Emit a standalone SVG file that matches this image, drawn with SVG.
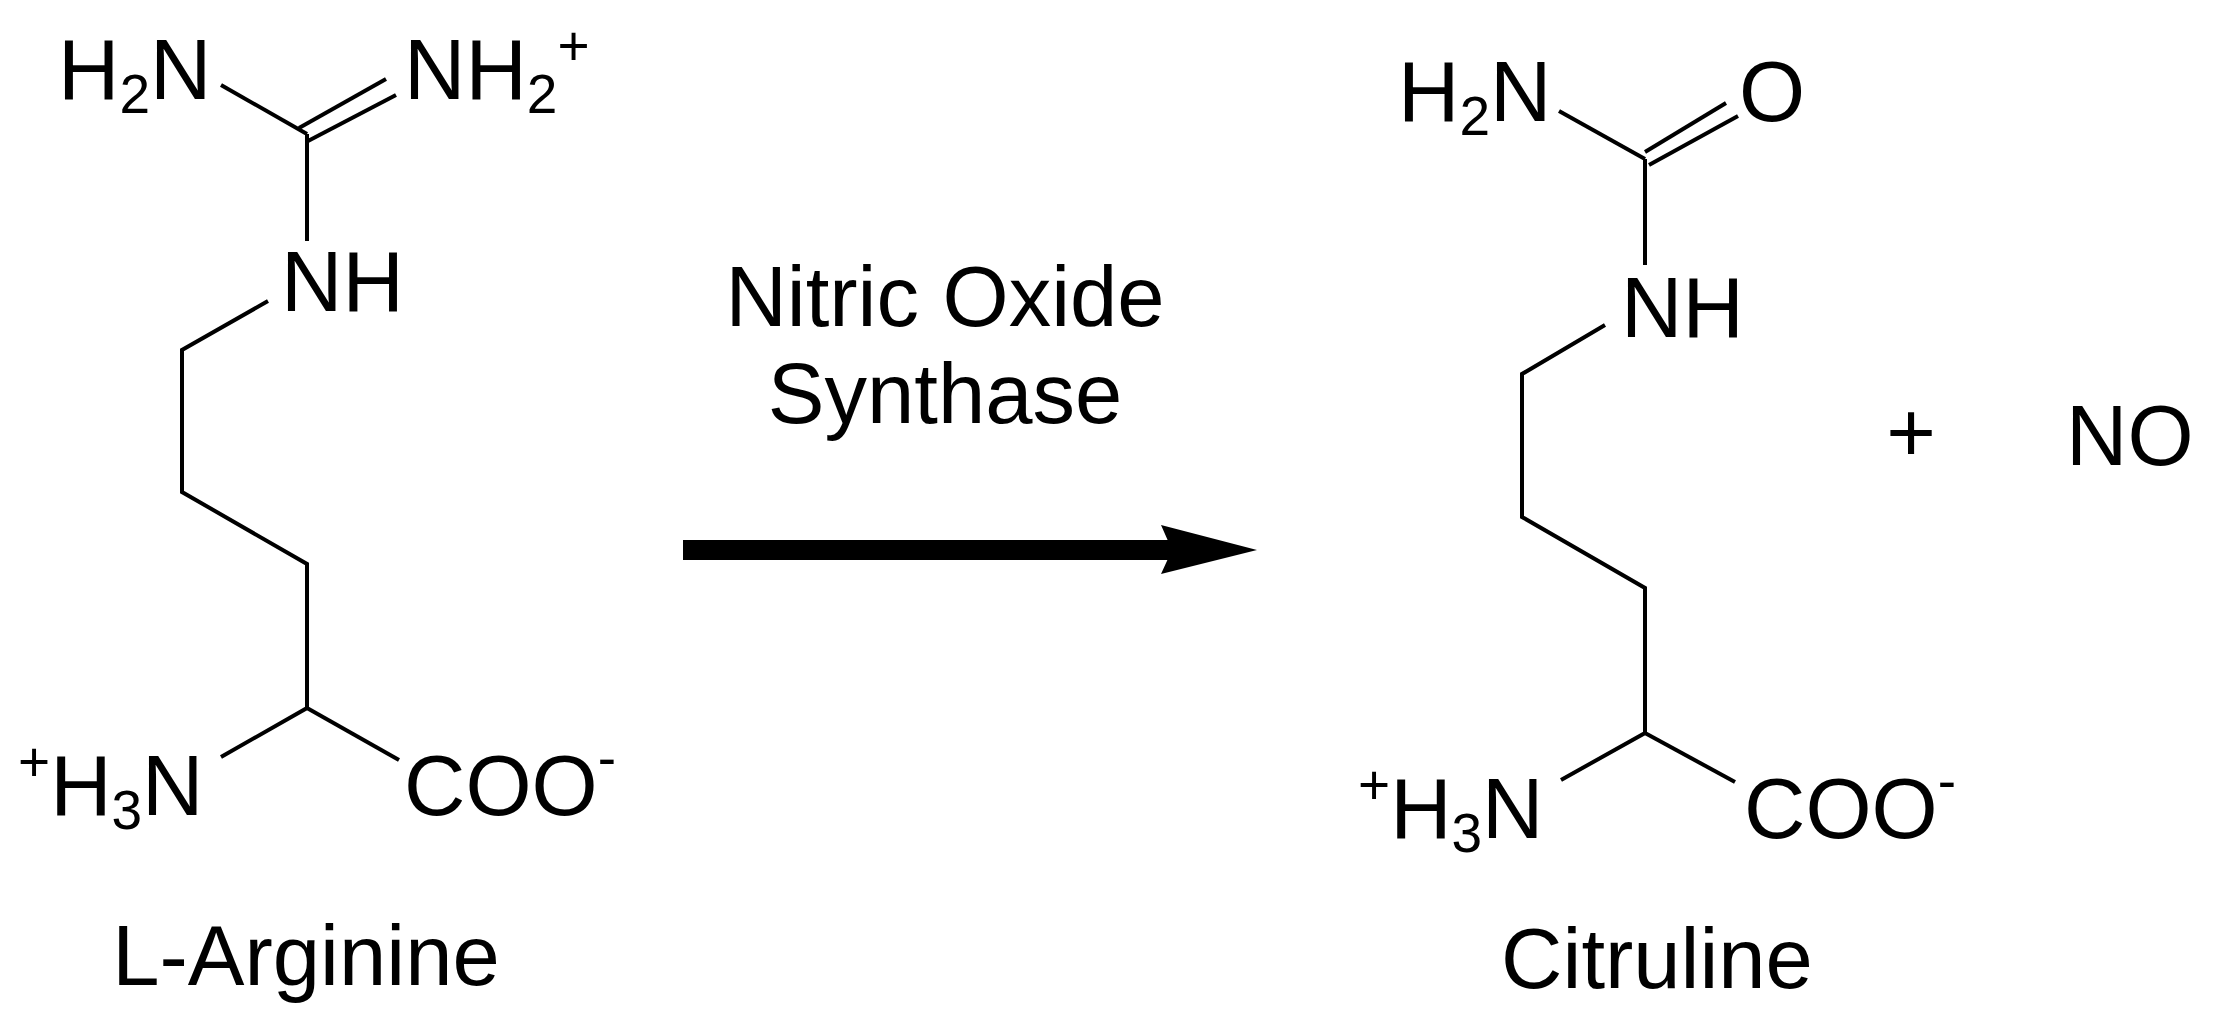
<svg xmlns="http://www.w3.org/2000/svg" width="2235" height="1026" viewBox="0 0 2235 1026">
<style>
text{font-family:"Liberation Sans",Arial,sans-serif;font-size:85px;fill:#000}
.b{stroke:#000;stroke-width:4;fill:none;stroke-linecap:butt}
.s{font-size:55px}
</style>
<rect width="2235" height="1026" fill="#fff"/>
<g id="arginine">
<g class="b">
<line x1="221" y1="85" x2="307" y2="134"/>
<line x1="299" y1="128" x2="386" y2="79"/>
<line x1="308" y1="141" x2="396" y2="95"/>
<line x1="307" y1="134" x2="307" y2="241"/>
<polyline points="268,301 182,350 182,492 307,564 307,708 221,757"/>
<line x1="307" y1="708" x2="399" y2="760"/>
</g>
<text x="58" y="99">H<tspan class="s" dy="14">2</tspan><tspan dy="-14">N</tspan></text>
<text x="404" y="99">NH<tspan class="s" dy="14">2</tspan><tspan class="s" dy="-48">+</tspan></text>
<text x="281" y="311">NH</text>
<text x="18" y="815"><tspan class="s" dy="-34">+</tspan><tspan dy="34">H</tspan><tspan class="s" dy="14">3</tspan><tspan dy="-14">N</tspan></text>
<text x="404" y="815">COO<tspan class="s" dy="-38">-</tspan></text>
<text x="306" y="985" text-anchor="middle">L-Arginine</text>
</g>
<g id="connectors">
<rect x="683" y="540" width="490" height="20" fill="#000"/>
<path d="M1161,525 L1257,550 L1161,574 L1172,550 Z" fill="#000"/>
<text x="945" y="326" text-anchor="middle">Nitric Oxide</text>
<text x="945" y="423" text-anchor="middle">Synthase</text>
</g>
<g id="citruline">
<g class="b">
<line x1="1559" y1="111" x2="1645" y2="159"/>
<line x1="1645" y1="152" x2="1726" y2="103"/>
<line x1="1649" y1="165" x2="1738" y2="116"/>
<line x1="1645" y1="159" x2="1645" y2="265"/>
<polyline points="1605,325 1522,374 1522,517 1645,588 1645,733 1561,780"/>
<line x1="1645" y1="733" x2="1735" y2="782"/>
</g>
<text x="1398" y="121">H<tspan class="s" dy="14">2</tspan><tspan dy="-14">N</tspan></text>
<text x="1739" y="121">O</text>
<text x="1621" y="337">NH</text>
<text x="1358" y="838"><tspan class="s" dy="-34">+</tspan><tspan dy="34">H</tspan><tspan class="s" dy="14">3</tspan><tspan dy="-14">N</tspan></text>
<text x="1744" y="838">COO<tspan class="s" dy="-38">-</tspan></text>
<text x="1657" y="988" text-anchor="middle">Citruline</text>
</g>
<g id="no">
<text x="1911" y="462" text-anchor="middle">+</text>
<text x="2066" y="465">NO</text>
</g>
</svg>
